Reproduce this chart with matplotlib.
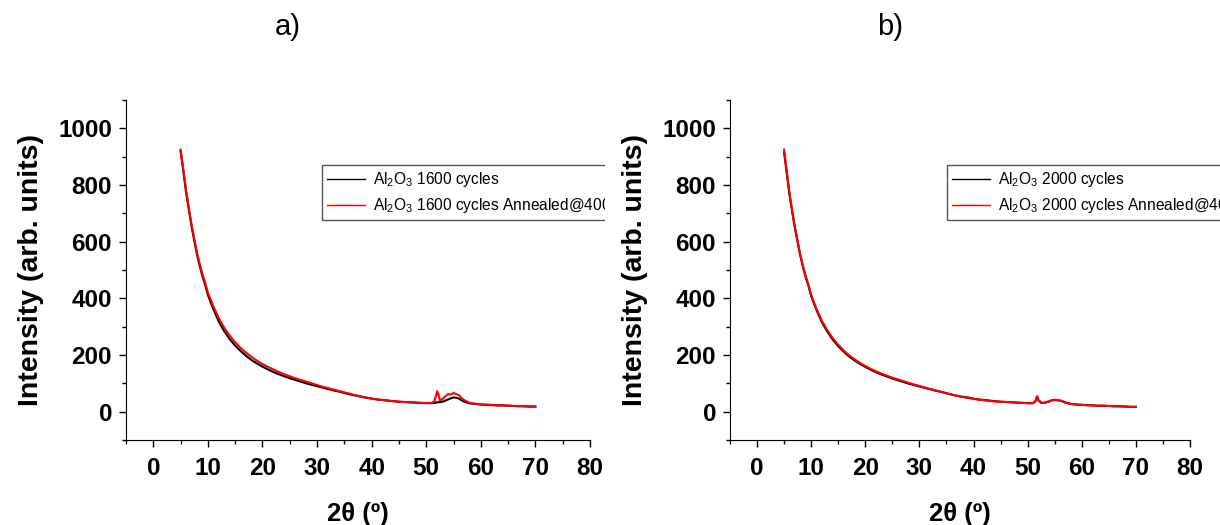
import matplotlib.pyplot as plt
from matplotlib.patches import Rectangle
from matplotlib.ticker import MultipleLocator

plt.rcParams['font.family'] = ['Liberation Sans', 'DejaVu Sans']
plt.rcParams['mathtext.fontset'] = 'custom'
plt.rcParams['mathtext.rm'] = 'Liberation Sans'
plt.rcParams['mathtext.default'] = 'regular'

# 2theta grid (deg) and intensities
theta_a = [5, 5.5, 6, 6.5, 7, 7.5, 8, 8.5, 9, 9.5, 10, 11, 12, 13, 14, 15, 16, 17, 18, 19,
           20, 21, 22, 23, 24, 25, 26, 27, 28, 29, 30, 31, 32, 33, 34, 35, 36, 37, 38, 39,
           40, 41, 42, 43, 44, 45, 46, 47, 48, 49, 50, 51, 51.5, 52, 52.25, 52.5, 53, 53.5,
           54, 54.5, 55, 55.5, 56, 56.5, 57, 58, 59, 60, 61, 62, 63, 64, 65, 66, 67, 68, 69, 70]
black_a = [920, 850, 775, 715, 655, 605, 555, 515, 478, 448, 412, 362, 318, 284, 256, 233, 214, 197, 182, 170,
           159, 149, 140, 132, 125, 118, 112, 106, 100, 95, 90, 85, 80, 75, 71, 66, 61, 57, 53, 49,
           46, 43, 41, 39, 37, 35, 34, 33, 32, 31, 30, 30, 31, 33, 33, 34, 35, 39,
           43, 47, 50, 49, 46, 40, 35, 29, 27, 25, 24, 23, 22, 22, 21, 20, 19, 19, 18, 18]
red_a = [925, 855, 785, 722, 662, 612, 562, 522, 486, 456, 420, 372, 330, 296, 268, 245, 225, 208, 193, 180,
         168, 158, 149, 140, 132, 125, 118, 112, 106, 100, 94, 88, 83, 78, 73, 68, 63, 58, 54, 50,
         46, 43, 41, 39, 37, 35, 34, 33, 32, 31, 31, 31, 36, 72, 60, 40, 44, 55,
         62, 60, 66, 62, 58, 48, 40, 31, 28, 26, 25, 24, 23, 22, 21, 20, 20, 19, 18, 18]

theta_b = [5, 5.5, 6, 6.5, 7, 7.5, 8, 8.5, 9, 9.5, 10, 11, 12, 13, 14, 15, 16, 17, 18, 19,
           20, 21, 22, 23, 24, 25, 26, 27, 28, 29, 30, 31, 32, 33, 34, 35, 36, 37, 38, 39,
           40, 41, 42, 43, 44, 45, 46, 47, 48, 49, 50, 51, 51.5, 51.75, 52, 52.5, 53, 53.5,
           54, 54.5, 55, 55.5, 56, 56.5, 57, 58, 59, 60, 61, 62, 63, 64, 65, 66, 67, 68, 69, 70]
black_b = [915, 840, 765, 705, 648, 598, 550, 510, 474, 444, 408, 358, 315, 282, 254, 231, 212, 195, 181, 169,
           158, 148, 139, 131, 124, 117, 111, 105, 99, 94, 89, 84, 79, 74, 70, 65, 60, 56, 52, 50,
           46, 43, 41, 39, 37, 35, 34, 33, 32, 31, 30, 30, 38, 52, 40, 31, 31, 33,
           36, 40, 41, 40, 39, 36, 32, 27, 25, 24, 23, 22, 21, 21, 20, 19, 19, 18, 17, 17]
red_b = [925, 848, 772, 710, 652, 602, 554, 514, 478, 448, 412, 362, 320, 287, 259, 236, 216, 199, 185, 172,
         161, 151, 142, 134, 127, 120, 114, 108, 102, 96, 91, 85, 80, 75, 70, 65, 60, 56, 52, 48,
         45, 42, 40, 38, 36, 35, 34, 33, 32, 31, 30, 30, 40, 55, 42, 32, 31, 34,
         37, 41, 42, 41, 39, 36, 32, 27, 25, 24, 23, 22, 21, 21, 20, 19, 19, 18, 17, 17]

labels_a = ['Al$_2$O$_3$ 1600 cycles', 'Al$_2$O$_3$ 1600 cycles Annealed@400 ºC']
labels_b = ['Al$_2$O$_3$ 2000 cycles', 'Al$_2$O$_3$ 2000 cycles Annealed@400 ºC']

fig = plt.figure(figsize=(12.2, 5.25), dpi=100)
ax1 = fig.add_axes([126 / 1220, 1 - 440 / 525, 464 / 1220, 340 / 525])
ax2 = fig.add_axes([730 / 1220, 1 - 440 / 525, 460 / 1220, 340 / 525])
ax2.set_zorder(2)

# white strip covering the left legend like in the original
fig.patches.append(Rectangle((605 / 1220, 0), 1, 1, transform=fig.transFigure,
                             facecolor='white', edgecolor='none', zorder=1))


def style(ax, x, yb, yr, labels, leg_x):
    ax.plot(x, yb, color='black', lw=1.5, label=labels[0])
    ax.plot(x, yr, color='red', lw=1.5, label=labels[1])
    ax.set_xlim(-5, 80)
    ax.set_ylim(-100, 1100)
    ax.xaxis.set_major_locator(MultipleLocator(10))
    ax.xaxis.set_minor_locator(MultipleLocator(5))
    ax.yaxis.set_major_locator(MultipleLocator(200))
    ax.yaxis.set_minor_locator(MultipleLocator(100))
    ax.spines['top'].set_visible(False)
    ax.spines['right'].set_visible(False)
    ax.tick_params(which='major', direction='out', length=5, width=1, labelsize=17.5, pad=5)
    ax.tick_params(axis='x', which='major', pad=7)
    ax.tick_params(which='minor', direction='out', length=3, width=1)
    for t in ax.get_xticklabels() + ax.get_yticklabels():
        t.set_fontweight('bold')
    ax.set_xlabel('2θ (º)', fontsize=18.5, fontweight='bold', labelpad=16)
    ax.set_ylabel('Intensity (arb. units)', fontsize=20.5, fontweight='bold', labelpad=10)
    leg = ax.legend(loc='upper left', bbox_to_anchor=(leg_x, 0.81), borderaxespad=0,
                    fontsize=11.2, frameon=True, fancybox=False, handlelength=2.4,
                    handletextpad=0.5, borderpad=0.35, labelspacing=0.45,
                    edgecolor='#555555', framealpha=1)
    leg.get_frame().set_linewidth(1)
    for ln in leg.get_lines():
        ln.set_linewidth(1)


style(ax1, theta_a, black_a, red_a, labels_a, (322 - 126) / 464)
style(ax2, theta_b, black_b, red_b, labels_b, (947 - 730) / 460)

fig.text(288 / 1220, 1 - 27 / 525, 'a)', fontsize=21, ha='center', va='center')
fig.text(890 / 1220, 1 - 27 / 525, 'b)', fontsize=21, ha='center', va='center')

fig.savefig('out.png', dpi=100)
